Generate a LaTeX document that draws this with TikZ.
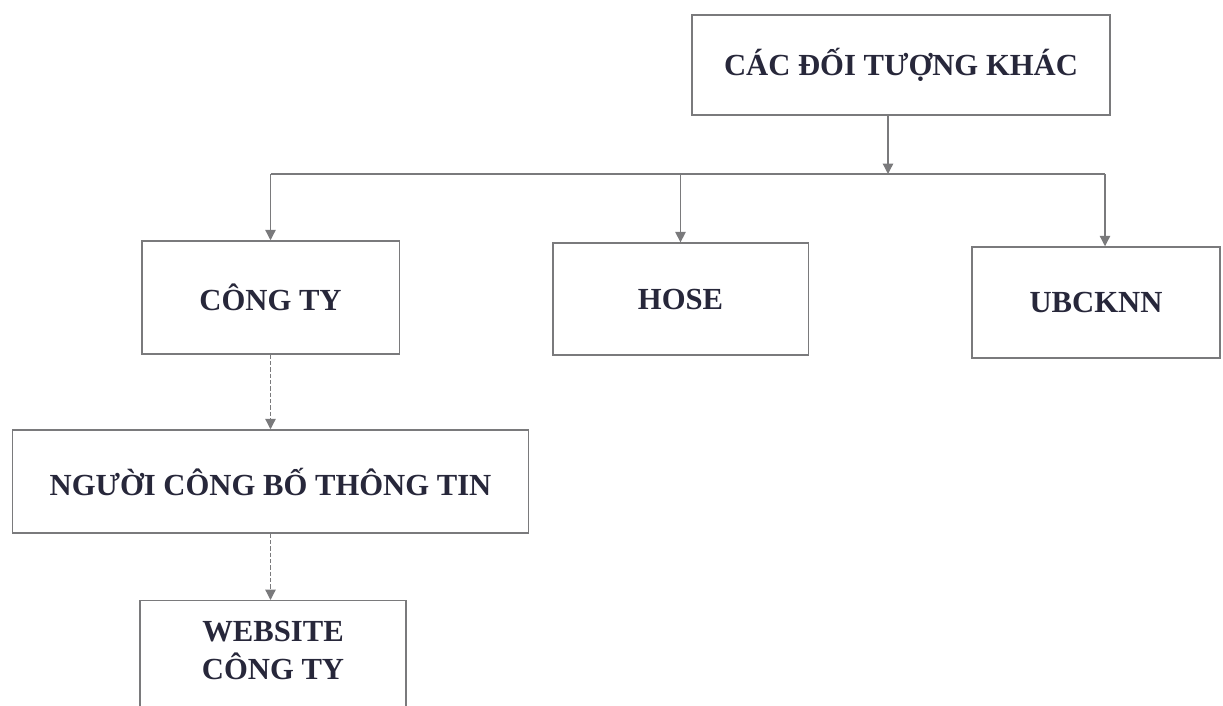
\documentclass[tikz,border=0pt]{standalone}
\usepackage{fontspec}
\setmainfont{Liberation Serif}
\usetikzlibrary{arrows.meta}
\definecolor{linegray}{HTML}{7A7A7C}
\definecolor{inkblue}{HTML}{27273A}
\begin{document}
\begin{tikzpicture}[x=0.025cm,y=-0.025cm,>={Triangle[length=2.6mm,width=2.6mm]},
	box/.style={draw=linegray,line width=0.9pt,text=inkblue,
		font=\bfseries\fontsize{21.8}{27.5}\selectfont,align=center,inner sep=0pt},
	link/.style={draw=linegray,line width=0.9pt},
	dlink/.style={link,dash pattern=on 3pt off 1.5pt}]
		
		\useasboundingbox (0,0) rectangle (1223,705);
		\clip (0,0) rectangle (1223,705);
		
		\node[box,minimum width=10.45cm,minimum height=2.5cm] (khac) at (901,65) {CÁC ĐỐI TƯỢNG KHÁC};
		
		\node[box,minimum width=6.43cm,minimum height=2.83cm] (congty) at (270.5,297.5) {CÔNG TY};
		\node[box,minimum width=6.38cm,minimum height=2.8cm] (hose) at (680.5,299) {HOSE};
		\node[box,minimum width=6.2cm,minimum height=2.78cm] (ubcknn) at (1096,302.5) {UBCKNN};
		
		\node[box,minimum width=12.88cm,minimum height=2.58cm] (nguoi) at (270.5,481.5) {NGƯỜI CÔNG BỐ THÔNG TIN};
		\node[box,anchor=north,minimum width=6.65cm,inner ysep=0pt,text height=1.98cm,text depth=1.5cm] (web) at (273,600) {WEBSITE\\CÔNG TY};
		
		\coordinate (bus) at (888,174);
		\coordinate (ubus) at (1105,174);
		
		\draw[link,->] (khac.south -| bus) -- (bus);
		\draw[link] (congty.north |- bus) -- (ubus);
		\draw[link,->] (congty.north |- bus) -- (congty.north);
		\draw[link,->] (hose.north |- bus) -- (hose.north);
		\draw[link,->] (ubus) -- (ubus |- ubcknn.north);
		
		\draw[dlink,->] (congty.south) -- (nguoi.north);
		\draw[dlink,->] (nguoi.south) -- (nguoi.south |- web.north);
	\end{tikzpicture}
\end{document}
